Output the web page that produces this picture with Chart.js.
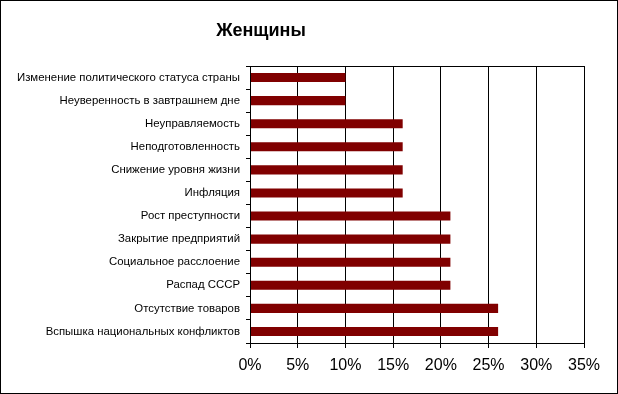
<!DOCTYPE html>
<html>
<head>
<meta charset="utf-8">
<script src="https://cdn.jsdelivr.net/npm/chart.js@4.4.0/dist/chart.umd.min.js"></script>
<style>
  body { margin: 0; background: #fff; }
  #wrap { width: 618px; height: 394px; box-sizing: border-box; border: 1px solid #000; }
</style>
</head>
<body>
<div id="wrap"><canvas id="myChart" width="616" height="392"></canvas></div>
<script>
// reasons, top to bottom
const reasons = [
  "Изменение политического статуса страны",
  "Неуверенность в завтрашнем дне",
  "Неуправляемость",
  "Неподготовленность",
  "Снижение уровня жизни",
  "Инфляция",
  "Рост преступности",
  "Закрытие предприятий",
  "Социальное расслоение",
  "Распад СССР",
  "Отсутствие товаров",
  "Вспышка национальных конфликтов"
];
// percent of women
const women = [10, 10, 16, 16, 16, 16, 21, 21, 21, 21, 26, 26];
const xTicks = [0, 5, 10, 15, 20, 25, 30, 35];

const titleText = "Женщины";

// draws the title and the box round the plot area
const extras = {
  id: "extras",
  afterDraw(chart) {
    const c = chart.ctx;
    const a = chart.chartArea;
    c.save();
    c.strokeStyle = "#000";
    c.lineWidth = 1;
    c.strokeRect(Math.round(a.left) + 0.5, Math.round(a.top) + 0.5,
      Math.round(a.right - a.left), Math.round(a.bottom - a.top));
    c.fillStyle = "#000";
    c.font = "bold 18px 'Liberation Sans', Arial, sans-serif";
    c.textAlign = "center";
    c.textBaseline = "middle";
    c.fillText(titleText, 260, 30);
    c.restore();
  }
};

Chart.defaults.font.family = "'Liberation Sans', Arial, sans-serif";
Chart.defaults.color = "#000";

var ctx = document.getElementById("myChart");
var myChart = new Chart(ctx, {
  type: "bar",
  data: {
    labels: reasons,
    datasets: [
      {
        label: "Женщины",
        data: women,
        backgroundColor: "#800000",
        borderWidth: 0,
        barPercentage: 0.39,
        categoryPercentage: 1,
      },
    ],
  },
  options: {
    indexAxis: "y",
    responsive: false,
    animation: false,
    layout: { padding: { top: 65, right: 33, left: 0, bottom: 0 } },
    plugins: {
      legend: { display: false },
      title: { display: false },
      tooltip: { enabled: false },
    },
    scales: {
      x: {
        min: 0,
        max: 35,
        afterBuildTicks: (s) => { s.ticks = xTicks.map((v) => ({ value: v })); },
        afterFit: (s) => { s.height = 50; },
        grid: { color: "#000", lineWidth: 1, tickLength: 5, drawTicks: true },
        border: { color: "#000", width: 1 },
        ticks: {
          padding: 8,
          font: { size: 16 },
          maxRotation: 0,
          callback: (v) => v + "%",
        },
      },
      y: {
        afterFit: (s) => { s.width = 249; },
        grid: { offset: true, drawOnChartArea: false, color: "#000", tickLength: 4 },
        border: { color: "#000", width: 1 },
        ticks: { padding: 6, font: { size: 11.4 }, autoSkip: false },
      },
    },
  },
  plugins: [extras],
});
</script>
</body>
</html>
